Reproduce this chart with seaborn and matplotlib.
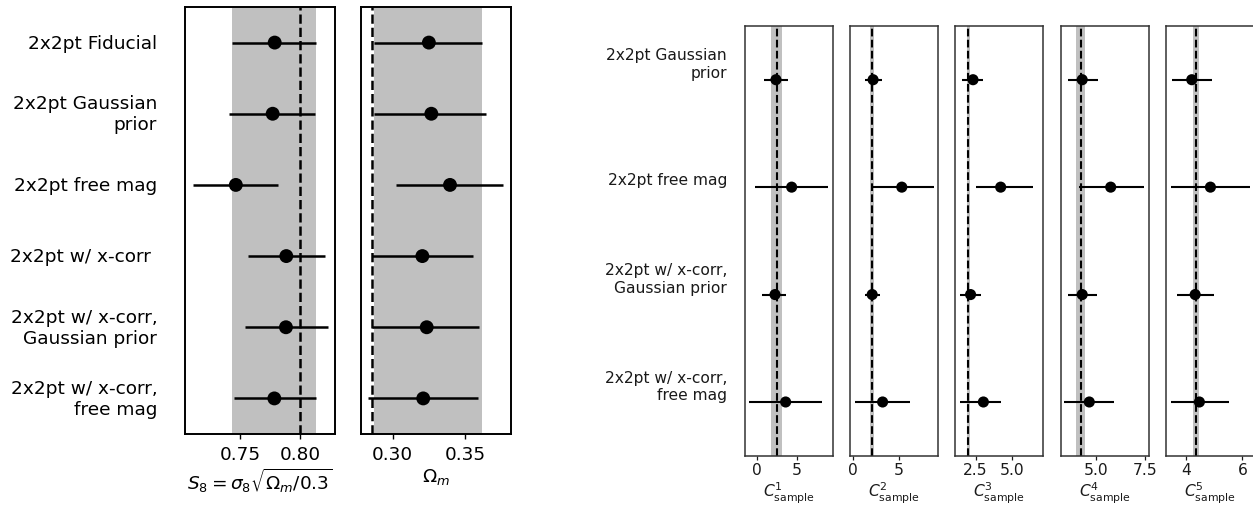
import numpy as np
import pandas as pd
import matplotlib
matplotlib.use("Agg")
import matplotlib.pyplot as plt
import seaborn as sns

# ---- left block: S8 and Omega_m ----
left_labels = ["2x2pt Fiducial", "2x2pt Gaussian\nprior", "2x2pt free mag",
               "2x2pt w/ x-corr ", "2x2pt w/ x-corr,\nGaussian prior",
               "2x2pt w/ x-corr,\nfree mag"]
s8_mid = [0.7786, 0.7769, 0.7461, 0.7883, 0.7880, 0.7783]
s8_lo = [0.7431, 0.7401, 0.7103, 0.7561, 0.7536, 0.7444]
s8_hi = [0.8133, 0.8122, 0.7811, 0.8206, 0.8228, 0.8128]
s8_ref = 0.800
s8_band = (0.7431, 0.8133)

om_mid = [0.3250, 0.3267, 0.3396, 0.3205, 0.3235, 0.3211]
om_lo = [0.2873, 0.2873, 0.3023, 0.2855, 0.2855, 0.2828]
om_hi = [0.3614, 0.3648, 0.3765, 0.3553, 0.3599, 0.3588]
om_ref = 0.2855
om_band = (0.2872, 0.3615)

# ---- right block: C_sample per bin ----
right_labels = ["2x2pt Gaussian\nprior", "2x2pt free mag",
                "2x2pt w/ x-corr,\nGaussian prior", "2x2pt w/ x-corr,\nfree mag"]
c_mid = [[2.41, 4.37, 2.29, 3.62],
         [2.19, 5.36, 2.09, 3.24],
         [2.32, 4.24, 2.15, 3.04],
         [4.30, 5.75, 4.30, 4.66],
         [4.21, 4.87, 4.33, 4.48]]
c_lo = [[0.91, -0.21, 0.67, -0.96],
        [1.26, 2.06, 1.29, 0.19],
        [1.54, 2.50, 1.45, 1.45],
        [3.56, 4.14, 3.60, 3.38],
        [3.50, 3.47, 3.69, 3.47]]
c_hi = [[3.87, 8.95, 3.62, 8.17],
        [3.13, 8.87, 2.94, 6.32],
        [3.04, 6.46, 2.88, 4.24],
        [5.11, 7.46, 5.03, 5.92],
        [4.91, 6.27, 5.00, 5.52]]
c_ref = [2.48, 2.06, 2.00, 4.22, 4.35]
c_band = [(1.75, 3.20), (1.90, 2.25), (1.93, 2.08), (3.98, 4.44), (4.27, 4.45)]
c_ticks = [[0, 5], [0, 5], [2.5, 5.0], [5.0, 7.5], [4, 6]]
c_ticklabels = [["0", "5"], ["0", "5"], ["2.5", "5.0"], ["5.0", "7.5"], ["4", "6"]]
c_xlim = [(-1.46, 9.54), (-0.36, 9.36), (1.09, 7.20), (3.21, 7.69), (3.30, 6.41)]

sns.set_theme(style="white")
plt.rcParams["font.family"] = ["DejaVu Sans"]
plt.rcParams["mathtext.fontset"] = "dejavusans"
plt.rcParams["text.color"] = "black"
plt.rcParams["axes.labelcolor"] = "black"
plt.rcParams["xtick.color"] = "black"
plt.rcParams["ytick.color"] = "black"

W, H = 1253, 510
fig = plt.figure(figsize=(W / 100, H / 100), dpi=100)


def px_axes(x0, x1, top, bottom):
    return fig.add_axes([x0 / W, (H - bottom) / H, (x1 - x0) / W, (bottom - top) / H])


def draw_panel(ax, mid, lo, hi, ref, band, n, ms, lw, spine_col, spine_lw):
    df = pd.DataFrame({"x": mid, "y": np.arange(n)})
    ax.axvspan(band[0], band[1], color="#c0c0c0", lw=0, zorder=0)
    ax.axvline(ref, color="black", ls="--", lw=lw, zorder=1)
    ax.hlines(df["y"], lo, hi, color="black", lw=lw, zorder=2)
    sns.scatterplot(data=df, x="x", y="y", ax=ax, color="black", s=ms ** 2,
                    edgecolor="none", zorder=3, legend=False)
    ax.set_ylim(n - 0.5, -0.5)
    for sp in ax.spines.values():
        sp.set_color(spine_col)
        sp.set_linewidth(spine_lw)
    ax.set_ylabel("")


# left block
ax_s8 = px_axes(185, 334.5, 8, 435)
ax_om = px_axes(361, 510.5, 8, 435)
draw_panel(ax_s8, s8_mid, s8_lo, s8_hi, s8_ref, s8_band, 6, 10, 1.8, "black", 1.4)
draw_panel(ax_om, om_mid, om_lo, om_hi, om_ref, om_band, 6, 10, 1.8, "black", 1.4)
ax_s8.set_xlim(0.7036, 0.8286)
ax_om.set_xlim(0.2781, 0.3814)
ax_s8.set_xticks([0.75, 0.80], ["0.75", "0.80"])
ax_om.set_xticks([0.30, 0.35], ["0.30", "0.35"])
ax_s8.set_yticks(range(6), left_labels, fontsize=13.3, ha="right", va="center")
ax_om.set_yticks([])
for ax in (ax_s8, ax_om):
    ax.tick_params(axis="x", bottom=True, length=3.6, width=1.0, pad=4.5, labelsize=13.3)
    ax.tick_params(axis="y", length=0, pad=20)
ax_s8.set_xlabel(r"$S_8 = \sigma_8\sqrt{\Omega_m/0.3}$", fontsize=13.3, labelpad=2)
ax_om.set_xlabel(r"$\Omega_m$", fontsize=13.3, labelpad=2)

# right block
lefts = [745, 850, 955.3, 1060.8, 1166]
for i in range(5):
    ax = px_axes(lefts[i], lefts[i] + 88, 27, 456.7)
    draw_panel(ax, c_mid[i], c_lo[i], c_hi[i], c_ref[i], c_band[i], 4, 8.0, 1.5,
               "#333333", 1.1)
    ax.set_xlim(*c_xlim[i])
    ax.set_xticks(c_ticks[i], c_ticklabels[i])
    ax.tick_params(axis="x", bottom=True, length=3, width=0.9, pad=1.5,
                   labelsize=11.2, colors="#1a1a1a")
    ax.set_xlabel(r"$C^{%d}_{\rm sample}$" % (i + 1), fontsize=11.2, labelpad=2,
                  color="#1a1a1a")
    if i == 0:
        ax.set_yticks(range(4), right_labels, fontsize=11.2, va="bottom",
                      color="#1a1a1a")
        ax.tick_params(axis="y", length=0, pad=13)
    else:
        ax.set_yticks([])

fig.savefig("out.png", dpi=100)
